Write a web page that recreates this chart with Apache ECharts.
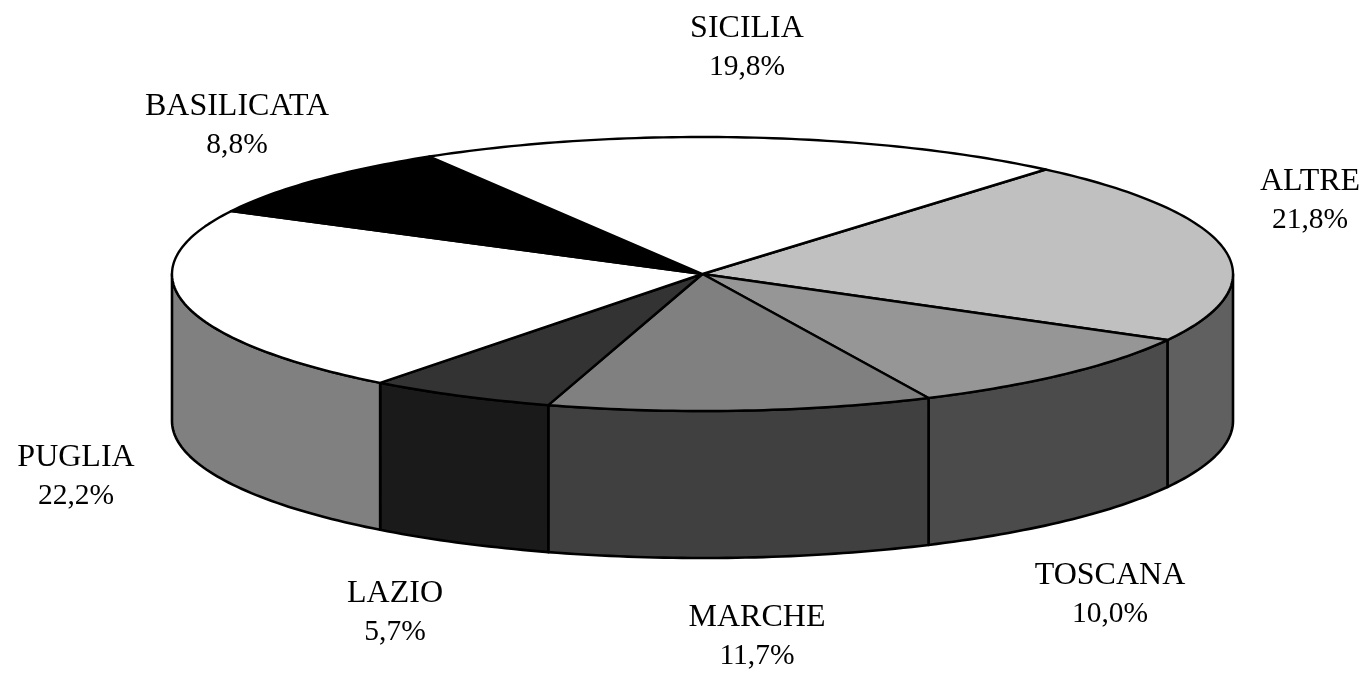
<!DOCTYPE html>
<html>
<head>
<meta charset="utf-8">
<title>Regioni</title>
<style>
html, body { margin: 0; padding: 0; background: #fff; }
#chart { width: 1368px; height: 673px; }
</style>
<script src="https://cdn.jsdelivr.net/npm/echarts@6/dist/echarts.min.js"></script>
</head>
<body>
<div id="chart"></div>
<script>
// dati, in senso orario a partire da ALTRE
var regions = ['ALTRE', 'TOSCANA', 'MARCHE', 'LAZIO', 'PUGLIA', 'BASILICATA', 'SICILIA'];
var shares = [21.8, 10.0, 11.7, 5.7, 22.2, 8.8, 19.8];

// stile
var topColors = ['#c0c0c0', '#969696', '#808080', '#333333', '#ffffff', '#000000', '#ffffff'];
var wallColors = ['#606060', '#4b4b4b', '#404040', '#1a1a1a', '#808080', '#000000', '#ffffff'];
var labelCenters = [[1310, 201], [1110, 595], [757, 637], [395, 613], [76, 477], [237, 126], [747, 48]];

// geometria della torta
var cx = 702.5, cy = 274, rx = 530.5, ry = 137, depth = 147;
var startDeg = 40.3;
var total = shares.reduce(function (a, b) { return a + b; }, 0);

function sliceRange(idx) {
	var before = 0;
	for (var i = 0; i < idx; i++) before += shares[i];
	return [startDeg + before / total * 360, startDeg + (before + shares[idx]) / total * 360];
}

function rim(deg, dy) {
	var t = deg * Math.PI / 180;
	return [cx + rx * Math.sin(t), cy - ry * Math.cos(t) + (dy || 0)];
}

function arc(from, to, dy) {
	var pts = [], n = Math.max(2, Math.ceil(Math.abs(to - from)));
	for (var i = 0; i <= n; i++) pts.push(rim(from + (to - from) * i / n, dy));
	return pts;
}

// pareti laterali: solo la meta' anteriore (90-270 gradi) e' visibile
function renderWall(params) {
	var r = sliceRange(params.dataIndex);
	var from = Math.max(r[0], 90), to = Math.min(r[1], 270);
	if (from >= to) return { type: 'group', children: [] };
	return {
		type: 'polygon',
		shape: { points: arc(from, to, 0).concat(arc(to, from, depth)) },
		style: { fill: wallColors[params.dataIndex], stroke: '#000', lineWidth: 2.6, lineJoin: 'round' }
	};
}

function renderTop(params) {
	var r = sliceRange(params.dataIndex);
	return {
		type: 'polygon',
		shape: { points: [[cx, cy]].concat(arc(r[0], r[1], 0)) },
		style: { fill: topColors[params.dataIndex], stroke: '#000', lineWidth: 2.4, lineJoin: 'round' }
	};
}

function renderLabel(params, api) {
	var c = labelCenters[params.dataIndex];
	return {
		type: 'text',
		x: c[0],
		y: c[1],
		style: {
			text: '{n|' + regions[params.dataIndex] + '}\n{v|' + api.value(0).toFixed(1).replace('.', ',') + '%}',
			fill: '#000',
			align: 'center',
			verticalAlign: 'middle',
			rich: {
				n: { font: '32px "Liberation Serif"', lineHeight: 39, fill: '#000' },
				v: { font: '29.5px "Liberation Serif"', lineHeight: 39, fill: '#000' }
			}
		}
	};
}

var chart = echarts.init(document.getElementById('chart'), null, { renderer: 'canvas' });
chart.setOption({
	animation: false,
	backgroundColor: '#fff',
	tooltip: { show: false },
	series: [
		{ type: 'custom', coordinateSystem: 'none', data: shares, renderItem: renderWall, silent: true },
		{ type: 'custom', coordinateSystem: 'none', data: shares, renderItem: renderTop, silent: true },
		{ type: 'custom', coordinateSystem: 'none', data: shares, renderItem: renderLabel, silent: true }
	]
});
</script>
</body>
</html>
